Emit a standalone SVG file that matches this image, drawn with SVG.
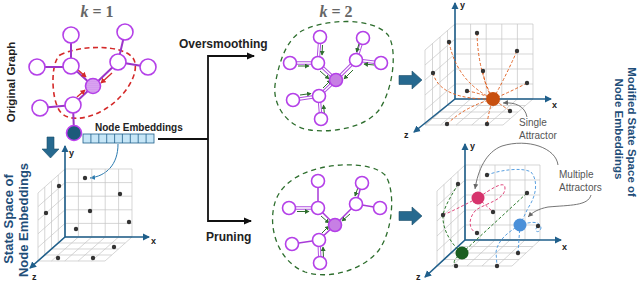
<svg xmlns="http://www.w3.org/2000/svg" xmlns:xlink="http://www.w3.org/1999/xlink" width="640" height="281" viewBox="0 0 640 281">
<style>
.gl{stroke:#c4c4c4;stroke-width:0.7;fill:none;vector-effect:non-scaling-stroke}
.ax{stroke:#1f5f8b;stroke-width:1.6;fill:none;marker-end:url(#aAx)}
.axl{font-family:"Liberation Sans",Arial,sans-serif;font-weight:bold;font-size:9px;fill:#222}
.e{stroke:#9b35c9;stroke-width:2;fill:none}
.eo{stroke:#b050e0;stroke-width:3.4;fill:none}
.ei{stroke:#fff;stroke-width:1.4;fill:none}
.es{stroke:#a83ad8;stroke-width:1.5;fill:none}
.n{fill:#fff;stroke:#b440e8;stroke-width:1.6}
.ga{stroke:#2e6e2e;stroke-width:1;fill:none;marker-end:url(#aGr)}
.ra{stroke:#d42a2a;stroke-width:1.3;fill:none;marker-end:url(#aRd)}
.dot{fill:#333}
.or{stroke:#e2672a;stroke-width:1;stroke-dasharray:3 2;fill:none}
.pk{stroke:#e0457a;stroke-width:1;stroke-dasharray:3 2;fill:none}
.bl{stroke:#5aa0e0;stroke-width:1;stroke-dasharray:3 2;fill:none}
.gr{stroke:#2d7a2d;stroke-width:1;stroke-dasharray:3 2;fill:none}
.bk{stroke:#111;stroke-width:1.8;fill:none}
.lbl{font-family:"Liberation Sans",Arial,sans-serif;font-weight:bold;fill:#222}
.ann{font-family:"Liberation Sans",Arial,sans-serif;font-size:10px;fill:#555}
.side{font-family:"Liberation Sans",Arial,sans-serif;font-weight:bold;fill:#1f4e79}
.kt{font-family:"Liberation Serif","Times New Roman",serif;font-weight:bold;font-size:16px;fill:#666}
.blk{fill:#26698f;stroke:#1d4f6a;stroke-width:0.6}
</style>
<defs>
<marker id="aAx" markerWidth="8" markerHeight="8" refX="6" refY="4" orient="auto" markerUnits="userSpaceOnUse"><path d="M0,0.5 L7,4 L0,7.5 Z" fill="#1f5f8b"/></marker>
<marker id="aBk" markerWidth="9" markerHeight="9" refX="7" refY="4.5" orient="auto" markerUnits="userSpaceOnUse"><path d="M0,1 L8,4.5 L0,8 Z" fill="#111"/></marker>
<marker id="aRd" markerWidth="6" markerHeight="6" refX="4.5" refY="3" orient="auto" markerUnits="userSpaceOnUse"><path d="M0,0 L5,3 L0,6 Z" fill="#d42a2a"/></marker>
<marker id="aGr" markerWidth="5" markerHeight="5" refX="4" refY="2.5" orient="auto" markerUnits="userSpaceOnUse"><path d="M0,0 L4.5,2.5 L0,5 Z" fill="#2e6e2e"/></marker>
<marker id="aGy" markerWidth="6" markerHeight="6" refX="5" refY="3" orient="auto" markerUnits="userSpaceOnUse"><path d="M0,0.5 L5,3 L0,5.5 Z" fill="#666"/></marker>
<marker id="aBl" markerWidth="6" markerHeight="6" refX="5" refY="3" orient="auto" markerUnits="userSpaceOnUse"><path d="M0,0.5 L5,3 L0,5.5 Z" fill="#2b7bb0"/></marker>
<pattern id="stip" width="2" height="2" patternUnits="userSpaceOnUse"><rect width="2" height="2" fill="#e4b8f6"/><circle cx="1" cy="1" r="0.55" fill="#a640d6"/></pattern>
<g id="g55">
<line class="gl" x1="0" y1="0" x2="0" y2="5"/><line class="gl" x1="1" y1="0" x2="1" y2="5"/><line class="gl" x1="2" y1="0" x2="2" y2="5"/><line class="gl" x1="3" y1="0" x2="3" y2="5"/><line class="gl" x1="4" y1="0" x2="4" y2="5"/><line class="gl" x1="5" y1="0" x2="5" y2="5"/>
<line class="gl" x1="0" y1="0" x2="5" y2="0"/><line class="gl" x1="0" y1="1" x2="5" y2="1"/><line class="gl" x1="0" y1="2" x2="5" y2="2"/><line class="gl" x1="0" y1="3" x2="5" y2="3"/><line class="gl" x1="0" y1="4" x2="5" y2="4"/><line class="gl" x1="0" y1="5" x2="5" y2="5"/>
</g>
<g id="g45">
<line class="gl" x1="0" y1="0" x2="0" y2="5"/><line class="gl" x1="1" y1="0" x2="1" y2="5"/><line class="gl" x1="2" y1="0" x2="2" y2="5"/><line class="gl" x1="3" y1="0" x2="3" y2="5"/><line class="gl" x1="4" y1="0" x2="4" y2="5"/>
<line class="gl" x1="0" y1="0" x2="4" y2="0"/><line class="gl" x1="0" y1="1" x2="4" y2="1"/><line class="gl" x1="0" y1="2" x2="4" y2="2"/><line class="gl" x1="0" y1="3" x2="4" y2="3"/><line class="gl" x1="0" y1="4" x2="4" y2="4"/><line class="gl" x1="0" y1="5" x2="4" y2="5"/>
</g>
</defs>
<rect width="640" height="281" fill="#fff"/>

<!-- side titles -->
<text class="side" font-size="11.5" style="fill:#222" transform="translate(15,82) rotate(-90)" text-anchor="middle">Original Graph</text>
<text class="side" font-size="13" transform="translate(13,219) rotate(-90)" text-anchor="middle">State Space of</text>
<text class="side" font-size="13" transform="translate(28,220) rotate(-90)" text-anchor="middle">Node Embeddings</text>
<text class="side" font-size="11.5" transform="translate(628,132) rotate(90)" text-anchor="middle">Modified State Space of</text>
<text class="side" font-size="11.5" transform="translate(615,129) rotate(90)" text-anchor="middle">Node Embeddings</text>

<text class="kt" x="97" y="17" text-anchor="middle"><tspan font-style="italic">k</tspan> = 1</text>
<text class="kt" x="336" y="17" text-anchor="middle"><tspan font-style="italic">k</tspan> = 2</text>

<!-- original graph -->
<g id="original-graph">
<path d="M60,55 C80,45 122,44 133,58 C142,72 124,100 100,112 C84,120 64,122 58,108 C51,94 51,62 60,55 Z" fill="none" stroke="#d42a2a" stroke-width="1.6" stroke-dasharray="5 3.5"/>
<path class="e" d="M71,35 V66 M37,67 H71 M71,66 L93,86 M125,32 L118,62 M118,62 L148,67 M118,62 L93,86 M93,86 L73,105 M40,108 L73,105 M73,105 L74,133"/>
<path class="ra" d="M77,69 L86,77"/>
<path class="ra" d="M112,73 L101,83"/>
<path class="ra" d="M77,97 L85,90"/>
<circle class="n" cx="71" cy="35" r="8"/>
<circle class="n" cx="125" cy="32" r="8"/>
<circle class="n" cx="37" cy="67" r="8"/>
<circle class="n" cx="71" cy="66" r="8"/>
<circle class="n" cx="118" cy="62" r="8"/>
<circle class="n" cx="148" cy="67" r="8"/>
<circle class="n" cx="40" cy="108" r="8"/>
<circle class="n" cx="73" cy="105" r="8"/>
<circle cx="93" cy="86" r="7.5" fill="url(#stip)" stroke="#b440e8" stroke-width="1.6"/>
<circle cx="74" cy="133" r="7.5" fill="#1d5a7a" stroke="#c040f0" stroke-width="1.6"/>
</g>

<!-- node embeddings -->
<g id="node-embeddings">
<text class="lbl" x="95" y="131" font-size="10">Node Embeddings</text>
<rect x="83" y="134" width="71" height="9" fill="#c6e6f7" stroke="#1f5f8b" stroke-width="0.8"/>
<path d="M90.9,134 V143 M98.8,134 V143 M106.7,134 V143 M114.6,134 V143 M122.4,134 V143 M130.3,134 V143 M138.2,134 V143 M146.1,134 V143" stroke="#1f5f8b" stroke-width="0.8"/>
</g>

<polygon class="blk" points="47,137 54,137 54,149 59,149 50.5,158 42,149 47,149"/>
<polygon class="blk" points="399,75.5 412,75.5 412,71 422,80 412,89 412,84.5 399,84.5"/>
<polygon class="blk" points="399,211.5 412,211.5 412,207 422,216 412,225 412,220.5 399,220.5"/>

<!-- connectors -->
<g id="connectors">
<path class="bk" d="M158,139 H208"/>
<path class="bk" d="M208,139 V56 H254" marker-end="url(#aBk)"/>
<path class="bk" d="M208,139 V221 H251" marker-end="url(#aBk)"/>
<path d="M118,144 C118,165 106,176 90,178" fill="none" stroke="#2b7bb0" stroke-width="1" marker-end="url(#aBl)"/>
</g>
<text class="lbl" x="179" y="48" font-size="12">Oversmoothing</text>
<text class="lbl" x="206" y="241" font-size="12">Pruning</text>

<!-- k=2 oversmoothing graph -->
<g id="graph-oversmoothing">
<path d="M300,32 C322,19 372,16 388,35 C398,50 393,90 379,110 C365,128 332,133 310,130 C286,127 270,102 276,80 C280,60 286,42 300,32 Z" fill="none" stroke="#2e6e2e" stroke-width="1.3" stroke-dasharray="5 4"/>
<path class="eo" d="M320,37 L318,63 M290,63 H318 M318,63 L336,80 M363,38 L356,60 M381,63 L356,60 M356,60 L336,80 M336,80 L319,96 M293,100 L319,96 M321,119 L319,96"/>
<path class="ei" d="M320,37 L318,63 M290,63 H318 M318,63 L336,80 M363,38 L356,60 M381,63 L356,60 M356,60 L336,80 M336,80 L319,96 M293,100 L319,96 M321,119 L319,96"/>
<path class="ga" d="M322.5,45 L322,55"/>
<path class="ga" d="M298,66 L309,66"/>
<path class="ga" d="M320,71 L329,79"/>
<path class="ga" d="M359.5,42 L356.5,52"/>
<path class="ga" d="M374,65 L364,64"/>
<path class="ga" d="M353,70 L344,79"/>
<path class="ga" d="M300,95 L311,93.5"/>
<path class="ga" d="M323,88 L331,80"/>
<path class="ga" d="M324.5,115 L323.5,105"/>
<circle class="n" cx="320" cy="37" r="6.5"/>
<circle class="n" cx="363" cy="38" r="6.5"/>
<circle class="n" cx="290" cy="63" r="6.5"/>
<circle class="n" cx="318" cy="63" r="6.5"/>
<circle class="n" cx="356" cy="60" r="6.5"/>
<circle class="n" cx="381" cy="63" r="6.5"/>
<circle class="n" cx="293" cy="100" r="6.5"/>
<circle class="n" cx="319" cy="96" r="6.5"/>
<circle class="n" cx="321" cy="119" r="6.5"/>
<circle cx="336" cy="80" r="6.5" fill="#c77fe4" stroke="#b440e8" stroke-width="1.6"/>
</g>

<!-- k=2 pruning graph -->
<g id="graph-pruning">
<path d="M295,178 C320,162 370,160 385,175 C396,190 393,230 379,250 C363,270 330,280 305,272 C282,263 270,236 273,212 C275,195 283,186 295,178 Z" fill="none" stroke="#2e6e2e" stroke-width="1.3" stroke-dasharray="5 4"/>
<path class="es" d="M318,181 V208 M318,208 L335,225 M362,183 L356,204 M380,208 L356,204 M356,204 L335,225 M335,225 L319,240 M292,244 L319,240"/>
<path class="eo" d="M289,208 H318 M320,263 L319,240"/>
<path class="ei" d="M289,208 H318 M320,263 L319,240"/>
<path class="ga" d="M297,211.5 L309,211.5"/>
<path class="ga" d="M321,216 L329,223"/>
<path class="ga" d="M358.5,186 L355,196"/>
<path class="ga" d="M350,214 L342,221"/>
<path class="ga" d="M323.5,258 L323,247"/>
<path class="ga" d="M322,233 L329,226"/>
<circle class="n" cx="318" cy="181" r="6.5"/>
<circle class="n" cx="362" cy="183" r="6.5"/>
<circle class="n" cx="289" cy="208" r="6.5"/>
<circle class="n" cx="318" cy="208" r="6.5"/>
<circle class="n" cx="356" cy="204" r="6.5"/>
<circle class="n" cx="380" cy="208" r="6.5"/>
<circle class="n" cx="292" cy="244" r="6.5"/>
<circle class="n" cx="319" cy="240" r="6.5"/>
<circle class="n" cx="320" cy="263" r="6.5"/>
<circle cx="335" cy="225" r="6.5" fill="#c77fe4" stroke="#b440e8" stroke-width="1.6"/>
</g>

<!-- plot A: state space -->
<g id="plot-initial">
<use href="#g55" transform="matrix(13.4 0 0 -13.6 65 237)"/>
<use href="#g45" transform="matrix(-6.75 6 0 -13.6 65 237)"/>
<use href="#g45" transform="matrix(-6.75 6 13.4 0 65 237)"/>
<path class="ax" d="M65,237 V146"/>
<path class="ax" d="M65,237 H149"/>
<path class="ax" d="M65,237 L30,268"/>
<text class="axl" x="69" y="156">y</text>
<text class="axl" x="151" y="244">x</text>
<text class="axl" x="32" y="280">z</text>
<circle class="dot" cx="85" cy="178" r="2.2"/>
<circle class="dot" cx="59" cy="186" r="2.2"/>
<circle class="dot" cx="120" cy="194" r="2.2"/>
<circle class="dot" cx="46" cy="213" r="2.2"/>
<circle class="dot" cx="90" cy="211" r="2.2"/>
<circle class="dot" cx="129" cy="222" r="2.2"/>
<circle class="dot" cx="76" cy="229" r="2.2"/>
<circle class="dot" cx="114" cy="247" r="2.2"/>
<circle class="dot" cx="58" cy="258" r="2.2"/>
<circle class="dot" cx="93" cy="258" r="2.2"/>
</g>

<!-- plot B: single attractor -->
<g id="plot-single">
<use href="#g55" transform="matrix(15.6 0 0 -15 455 99)"/>
<use href="#g45" transform="matrix(-7.5 6.5 0 -15 455 99)"/>
<use href="#g45" transform="matrix(-7.5 6.5 15.6 0 455 99)"/>
<path class="ax" d="M455,99 V3"/>
<path class="ax" d="M455,99 H551"/>
<path class="ax" d="M455,99 L414,132"/>
<text class="axl" x="460" y="8">y</text>
<text class="axl" x="552" y="108">x</text>
<text class="axl" x="404" y="138">z</text>
<path class="or" d="M477,33 Q478,72 493,99 M449,42 Q457,82 493,99 M517,51 Q504,80 493,99 M433,73 Q440,100 493,99 M483,71 Q485,88 493,99 M527,83 Q510,92 493,99 M467,91 Q480,93 493,99 M510,111 Q500,104 493,99 M447,124 Q466,106 493,99 M487,124 Q489,110 493,99"/>
<circle class="dot" cx="477" cy="33" r="2.2"/>
<circle class="dot" cx="449" cy="42" r="2.2"/>
<circle class="dot" cx="517" cy="51" r="2.2"/>
<circle class="dot" cx="433" cy="73" r="2.2"/>
<circle class="dot" cx="483" cy="71" r="2.2"/>
<circle class="dot" cx="527" cy="83" r="2.2"/>
<circle class="dot" cx="467" cy="91" r="2.2"/>
<circle class="dot" cx="510" cy="111" r="2.2"/>
<circle class="dot" cx="447" cy="124" r="2.2"/>
<circle class="dot" cx="487" cy="124" r="2.2"/>
<circle cx="493" cy="99" r="7" fill="#c8500f"/>
<path d="M527,117 C525,106 515,102 503,103" fill="none" stroke="#666" stroke-width="0.9" marker-end="url(#aGy)"/>
<text class="ann" x="519" y="126">Single</text>
<text class="ann" x="519" y="139">Attractor</text>
</g>

<!-- plot C: multiple attractors -->
<g id="plot-multiple">
<use href="#g55" transform="matrix(15 0 0 -15 465 240)"/>
<use href="#g45" transform="matrix(-7 6.5 0 -15 465 240)"/>
<use href="#g45" transform="matrix(-7 6.5 15 0 465 240)"/>
<path class="ax" d="M465,240 V144"/>
<path class="ax" d="M465,240 H561"/>
<path class="ax" d="M465,240 L425,277"/>
<text class="axl" x="470" y="149">y</text>
<text class="axl" x="562" y="250">x</text>
<text class="axl" x="416" y="280">z</text>
<path class="pk" d="M443,215 C455,210 466,204 478,198 C492,188 505,180 505,188 C505,200 486,203 476,210 C468,218 468,230 477,233 M478,198 L493,212"/>
<path class="bl" d="M487,175 C500,170 522,167 531,172 C538,180 537,195 528,208 L520,225 C530,222 540,220 541,228 C540,234 532,232 538,226 M520,225 L518,253 M520,225 C508,232 498,240 496,252 L497,266"/>
<path class="gr" d="M458,184 C452,195 445,205 443,215 C442,230 452,245 462,253 M462,253 L527,193 M462,253 C455,258 452,262 456,266"/>
<circle class="dot" cx="487" cy="175" r="2.2"/>
<circle class="dot" cx="458" cy="184" r="2.2"/>
<circle class="dot" cx="527" cy="193" r="2.2"/>
<circle class="dot" cx="443" cy="215" r="2.2"/>
<circle class="dot" cx="493" cy="212" r="2.2"/>
<circle class="dot" cx="538" cy="226" r="2.2"/>
<circle class="dot" cx="477" cy="233" r="2.2"/>
<circle class="dot" cx="518" cy="253" r="2.2"/>
<circle class="dot" cx="456" cy="266" r="2.2"/>
<circle class="dot" cx="497" cy="266" r="2.2"/>
<circle cx="478" cy="198" r="6.5" fill="#d6336c"/>
<circle cx="520" cy="225" r="6.5" fill="#4a90d9"/>
<circle cx="462" cy="253" r="6.5" fill="#1a5e20"/>
<path d="M558,165 C556,148 528,138 502,146 C486,152 478,170 475,189" fill="none" stroke="#666" stroke-width="0.9" marker-end="url(#aGy)"/>
<path d="M591,195 C588,206 570,205 548,207 C538,209 533,212 528,217" fill="none" stroke="#666" stroke-width="0.9" marker-end="url(#aGy)"/>
<text class="ann" x="559" y="178" font-size="10.5">Multiple</text>
<text class="ann" x="559" y="191" font-size="10.5">Attractors</text>
</g>
</svg>
